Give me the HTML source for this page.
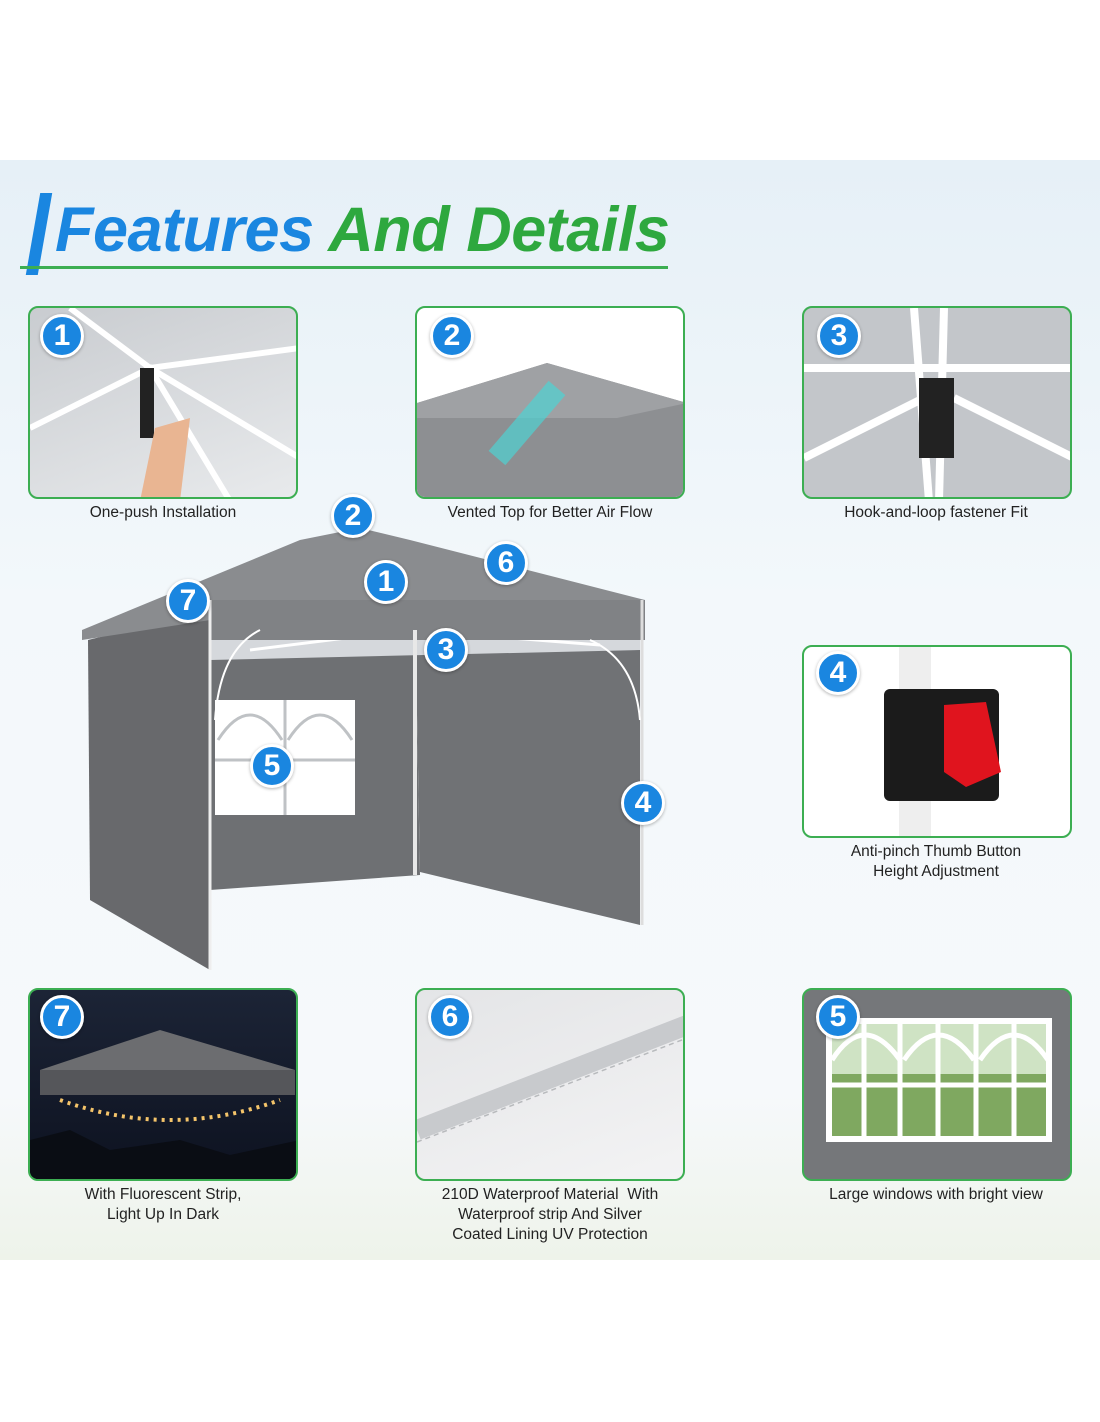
<!DOCTYPE html>
<html><head><meta charset="utf-8">
<style>
*{margin:0;padding:0;box-sizing:border-box}
body{width:1100px;height:1422px;background:#fff;font-family:"Liberation Sans",sans-serif;position:relative;overflow:hidden}
.bg{position:absolute;left:0;top:160px;width:1100px;height:1100px;background:linear-gradient(180deg,#e6f0f7 0%,#f3f8fb 40%,#f6f9fb 85%,#eef3ea 100%)}
.box{position:absolute;width:270px;height:193px;border:2px solid #3cae52;border-radius:10px;overflow:hidden}
.cap{position:absolute;width:300px;text-align:center;font-size:15.5px;color:#222;line-height:20px}
.num{position:absolute;width:44px;height:44px;border-radius:50%;background:#1a86e0;border:3px solid #fff;color:#fff;font-weight:bold;font-size:30px;text-align:center;line-height:38px;box-shadow:0 1px 3px rgba(0,0,0,.3)}
</style></head><body>
<div class="bg"></div>
<div style="position:absolute;left:33px;top:193px;width:12px;height:82px;background:#1a86e0;transform:skewX(-10deg)"></div>
<div style="position:absolute;left:20px;top:266px;width:648px;height:3px;background:#3cae52"></div>
<div style="position:absolute;left:55px;top:194px;font-size:63px;font-weight:bold;font-style:italic;letter-spacing:-0.5px;white-space:nowrap"><span style="color:#1a86e0">Features</span> <span style="color:#2ea83e">And Details</span></div>

<div class="box" style="left:28px;top:306px;background:linear-gradient(160deg,#c9ccd0,#e8eaec)">
<svg width="270" height="193"><path d="M40 0 L120 60 L270 40 M0 120 L120 60 L200 193 M120 60 L270 150" stroke="#fff" stroke-width="6" fill="none"/><rect x="110" y="60" width="14" height="70" fill="#222"/><path d="M110 193 L125 120 L160 110 L150 193Z" fill="#e9b592"/></svg></div>
<div class="num" style="left:40px;top:314px">1</div>
<div class="cap" style="left:13px;top:503px">One-push Installation</div>

<div class="box" style="left:415px;top:306px;background:#fff">
<svg width="270" height="193"><path d="M0 95 L130 55 L270 95 L270 193 L0 193Z" fill="#8d8f92"/><path d="M0 95 L130 55 L270 95 L200 110 L0 110Z" fill="#9fa1a4"/><path d="M80 150 L140 80" stroke="#4fd3d3" stroke-width="22" opacity=".7"/></svg></div>
<div class="num" style="left:430px;top:314px">2</div>
<div class="cap" style="left:400px;top:503px">Vented Top for Better Air Flow</div>

<div class="box" style="left:802px;top:306px;background:#c3c6ca">
<svg width="270" height="193"><path d="M0 60 L270 60 M0 150 L120 90 M270 150 L150 90 M110 0 L125 193 M140 0 L135 193" stroke="#fff" stroke-width="8" fill="none"/><rect x="115" y="70" width="35" height="80" fill="#222"/></svg></div>
<div class="num" style="left:817px;top:314px">3</div>
<div class="cap" style="left:786px;top:503px">Hook-and-loop fastener Fit</div>

<div class="box" style="left:802px;top:645px;background:#fff">
<svg width="270" height="193"><rect x="95" y="0" width="32" height="193" fill="#eee"/><rect x="80" y="42" width="115" height="112" rx="6" fill="#1b1b1b"/><path d="M140 58 L182 55 L197 125 L162 140 L140 125Z" fill="#e0141e"/></svg></div>
<div class="num" style="left:816px;top:651px">4</div>
<div class="cap" style="left:786px;top:842px">Anti-pinch Thumb Button<br>Height Adjustment</div>

<div class="box" style="left:28px;top:988px;background:linear-gradient(#1c2436,#0d1220)">
<svg width="270" height="193"><path d="M10 80 L130 40 L265 80Z" fill="#6c6d70"/><rect x="10" y="80" width="255" height="25" fill="#55565a"/><path d="M30 110 Q140 150 250 110" stroke="#f4c46a" stroke-width="4" fill="none" stroke-dasharray="3 5"/><path d="M0 193 L0 150 L40 140 L80 160 L150 150 L200 165 L270 150 L270 193Z" fill="#0a0d14"/></svg></div>
<div class="num" style="left:40px;top:995px">7</div>
<div class="cap" style="left:13px;top:1185px">With Fluorescent Strip,<br>Light Up In Dark</div>

<div class="box" style="left:415px;top:988px;background:linear-gradient(160deg,#e4e5e7,#f3f3f4)">
<svg width="270" height="193"><path d="M0 140 L270 35" stroke="#c8cacd" stroke-width="20"/><path d="M0 152 L270 48" stroke="#b8babd" stroke-width="1.5" stroke-dasharray="5 4"/></svg></div>
<div class="num" style="left:428px;top:995px">6</div>
<div class="cap" style="left:400px;top:1185px">210D Waterproof Material&nbsp; With<br>Waterproof strip And Silver<br>Coated Lining UV Protection</div>

<div class="box" style="left:802px;top:988px;background:#75777a">
<svg width="270" height="193"><rect x="22" y="28" width="226" height="124" fill="#fff"/><rect x="28" y="34" width="214" height="112" fill="#7fa860"/><rect x="28" y="34" width="214" height="50" fill="#cfe3c4"/><g stroke="#fff" stroke-width="5" fill="none"><path d="M96 30 V150 M172 30 V150 M22 95 H248 M60 30 V150 M134 30 V150 M210 30 V150"/><path d="M28 70 Q60 20 96 70 M100 70 Q134 20 170 70 M176 70 Q210 20 244 70"/></g></svg></div>
<div class="num" style="left:816px;top:995px">5</div>
<div class="cap" style="left:786px;top:1185px">Large windows with bright view</div>

<svg style="position:absolute;left:0;top:0" width="1100" height="1422">
<path d="M210 600 L640 600 L640 920 L420 870 L210 890Z" fill="#fff"/>
<path d="M210 640 L415 610 L420 875 L210 890Z" fill="#6e7073"/>
<path d="M415 610 L640 640 L640 925 L420 872Z" fill="#707275"/>
<path d="M88 640 L210 610 L210 970 L90 900Z" fill="#68696c"/>
<path d="M210 620 L640 620 L640 650 L210 660Z" fill="#d5d8dc"/>
<path d="M250 650 L410 630 L600 645" stroke="#fff" stroke-width="3" fill="none"/>
<path d="M82 630 L300 540 L360 528 L410 540 L645 600 L645 630 L210 620 L82 640Z" fill="#8a8c8f"/>
<path d="M210 600 L645 600 L645 640 L210 640Z" fill="#808285"/>
<rect x="215" y="700" width="140" height="115" fill="#fff"/>
<g stroke="#bfc2c5" stroke-width="3" fill="none"><path d="M285 700 V815 M215 760 H355 M218 740 Q250 690 282 740 M288 740 Q320 690 352 740"/></g>
<path d="M415 630 V875" stroke="#e8e8e8" stroke-width="4"/>
<path d="M210 600 V970" stroke="#eee" stroke-width="3"/>
<path d="M642 600 V925" stroke="#ddd" stroke-width="3"/>
<path d="M215 720 Q220 650 260 630 M590 640 Q635 660 640 720" stroke="#fff" stroke-width="2" fill="none"/>
</svg>
<div class="num" style="left:331px;top:494px">2</div>
<div class="num" style="left:484px;top:541px">6</div>
<div class="num" style="left:364px;top:560px">1</div>
<div class="num" style="left:166px;top:579px">7</div>
<div class="num" style="left:424px;top:628px">3</div>
<div class="num" style="left:250px;top:744px">5</div>
<div class="num" style="left:621px;top:781px">4</div>
</body></html>
